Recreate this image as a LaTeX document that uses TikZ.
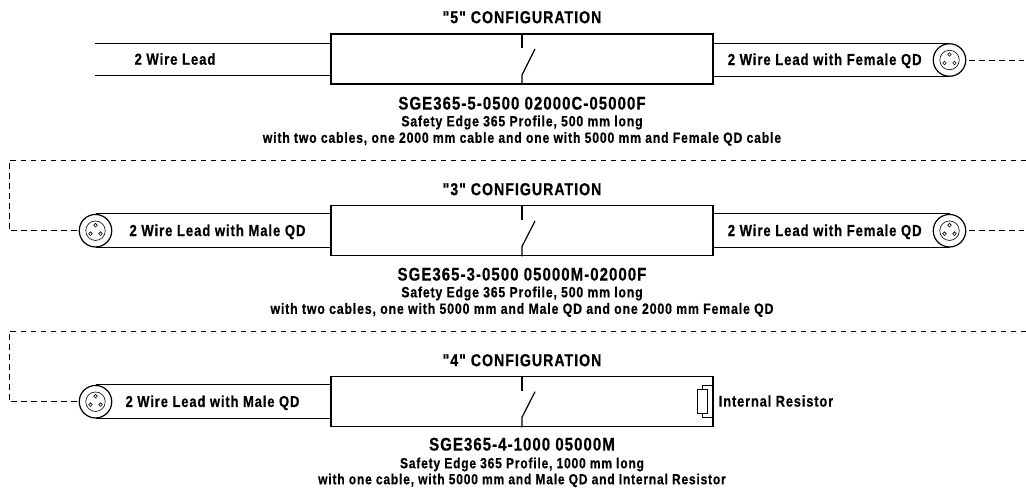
\documentclass[tikz,border=0pt]{standalone}
\usepackage{fontspec}
\setmainfont{Liberation Sans}[FakeStretch=0.82,LetterSpace=5.7,Ligatures=TeXOff,BoldFeatures={FakeBold=0.5}]
\begin{document}
\begin{tikzpicture}[x=1pt,y=-1pt,line width=1.2pt,
  txt/.style={inner sep=0pt,font=\bfseries\fontsize{#1}{#1}\selectfont,anchor=base,yshift={-0.358*#1 pt}},
  body/.style={draw,rectangle,minimum width=382pt,minimum height=50pt,inner sep=0pt,anchor=center},
  qd/.style={draw,circle,minimum size=32.5pt,inner sep=0pt,fill=white},
  qdin/.style={draw,circle,line width=0.6pt,minimum size=19.5pt,inner sep=0pt},
  pin/.style={draw,circle,line width=0.6pt,minimum size=3.6pt,inner sep=0pt},
  dashline/.style={line width=0.6pt,dash pattern=on 5.5pt off 4.5pt},
  res/.style={draw,rectangle,line width=1pt,minimum width=10pt,minimum height=23.5pt,inner sep=0pt}]
\useasboundingbox (0,0) rectangle (1026,491);

% ---------- 5
\node[txt=17.3] (t5) at (522,17) {"5" CONFIGURATION};
\node[body] (b5) at (522,59) {};
\coordinate (l5a) at (95,43.5); \coordinate (l5b) at (95,75.5);
\draw (l5a) -- (l5a-|b5.west) (l5b) -- (l5b-|b5.west);
\node[txt=16] (n5l) at (175,59) {2 Wire Lead};
\node[qd] (q5) at (949.5,60) {};
\draw (b5.east|-q5.north) -- (q5.north) (b5.east|-q5.south) -- (q5.south);
\node[txt=16] (n5r) at (824.7,59.3) {2 Wire Lead with Female QD};
\node[qdin] (i5) at (q5) {};
\node[pin] (p5a) at (949.5,54.5) {};
\node[pin] (p5b) at (944.5,63) {};
\node[pin] (p5c) at (954.5,63) {};
\coordinate (d5s) at (969,60); \coordinate (d5e) at (1024,60);
\draw[dashline] (d5s) -- (d5e);
\coordinate (s5m) at (522,48); \coordinate (s5k) at (522,75); \coordinate (s5o) at (535,49);
\draw (b5.north) -- (s5m);
\draw (b5.south) -- (s5k) -- (s5o);
\node[txt=18.3] (c5) at (522,103) {SGE365-5-0500 02000C-05000F};
\node[txt=14.9] (d5a) at (522,121) {Safety Edge 365 Profile, 500 mm long};
\node[txt=14.85] (d5b) at (522,137.5) {with two cables, one 2000 mm cable and one with 5000 mm and Female QD cable};

% ---------- 3
\coordinate (r3) at (1026,160); \coordinate (k3) at (9,160);
\node[qd] (q3l) at (95.5,230.7) {};
\coordinate (k3b) at (9,230.7);
\draw[dashline] (r3) -- (k3) -- (k3b) -- (q3l.west);
\node[txt=17.3] (t3) at (522,189) {"3" CONFIGURATION};
\node[body] (b3) at (522,230.7) {};
\draw (q3l.north) -- (q3l.north-|b3.west) (q3l.south) -- (q3l.south-|b3.west);
\node[txt=16] (n3l) at (217.5,230.3) {2 Wire Lead with Male QD};
\node[qdin] (i3l) at (q3l) {};
\node[pin] (p3a) at (95.5,225.2) {};
\node[pin] (p3b) at (90.5,233.7) {};
\node[pin] (p3c) at (100.5,233.7) {};
\node[qd] (q3r) at (949.5,230.7) {};
\draw (b3.east|-q3r.north) -- (q3r.north) (b3.east|-q3r.south) -- (q3r.south);
\node[txt=16] (n3r) at (824.7,230.3) {2 Wire Lead with Female QD};
\node[qdin] (i3r) at (q3r) {};
\node[pin] (p3d) at (949.5,225.2) {};
\node[pin] (p3e) at (944.5,233.7) {};
\node[pin] (p3f) at (954.5,233.7) {};
\coordinate (d3s) at (969,230.7); \coordinate (d3e) at (1024,230.7);
\draw[dashline] (d3s) -- (d3e);
\coordinate (s3m) at (522,220); \coordinate (s3k) at (522,246.5); \coordinate (s3o) at (535,221);
\draw (b3.north) -- (s3m);
\draw (b3.south) -- (s3k) -- (s3o);
\node[txt=18.3] (c3) at (522,274) {SGE365-3-0500 05000M-02000F};
\node[txt=14.9] (d3a) at (522,292) {Safety Edge 365 Profile, 500 mm long};
\node[txt=15] (d3b) at (522,308.5) {with two cables, one with 5000 mm and Male QD and one 2000 mm Female QD};

% ---------- 4
\coordinate (r4) at (1026,331); \coordinate (k4) at (9,331);
\node[qd] (q4) at (95.5,401.7) {};
\coordinate (k4b) at (9,401.7);
\draw[dashline] (r4) -- (k4) -- (k4b) -- (q4.west);
\node[txt=17.3] (t4) at (522,360) {"4" CONFIGURATION};
\node[body] (b4) at (522,401.7) {};
\draw (q4.north) -- (q4.north-|b4.west) (q4.south) -- (q4.south-|b4.west);
\node[txt=15.8] (n4l) at (212.5,401.3) {2 Wire Lead with Male QD};
\node[qdin] (i4) at (q4) {};
\node[pin] (p4a) at (95.5,396.2) {};
\node[pin] (p4b) at (90.5,404.7) {};
\node[pin] (p4c) at (100.5,404.7) {};
\coordinate (s4m) at (522,390.7); \coordinate (s4k) at (522,417.3); \coordinate (s4o) at (535,391.7);
\draw (b4.north) -- (s4m);
\draw (b4.south) -- (s4k) -- (s4o);
\node[res] (r) at (702.7,401.7) {};
\coordinate (rt) at (702.7,385.7); \coordinate (rb) at (702.7,417.7);
\draw[line width=1pt] (r.north) -- (rt) -- (rt-|b4.east);
\draw[line width=1pt] (r.south) -- (rb) -- (rb-|b4.east);
\node[txt=15.6] (nr) at (776,401) {Internal Resistor};
\node[txt=18.3] (c4) at (522,444) {SGE365-4-1000 05000M};
\node[txt=14.6] (d4a) at (522,463) {Safety Edge 365 Profile, 1000 mm long};
\node[txt=14.6] (d4b) at (522,479) {with one cable, with 5000 mm and Male QD and Internal Resistor};
\end{tikzpicture}
\end{document}
